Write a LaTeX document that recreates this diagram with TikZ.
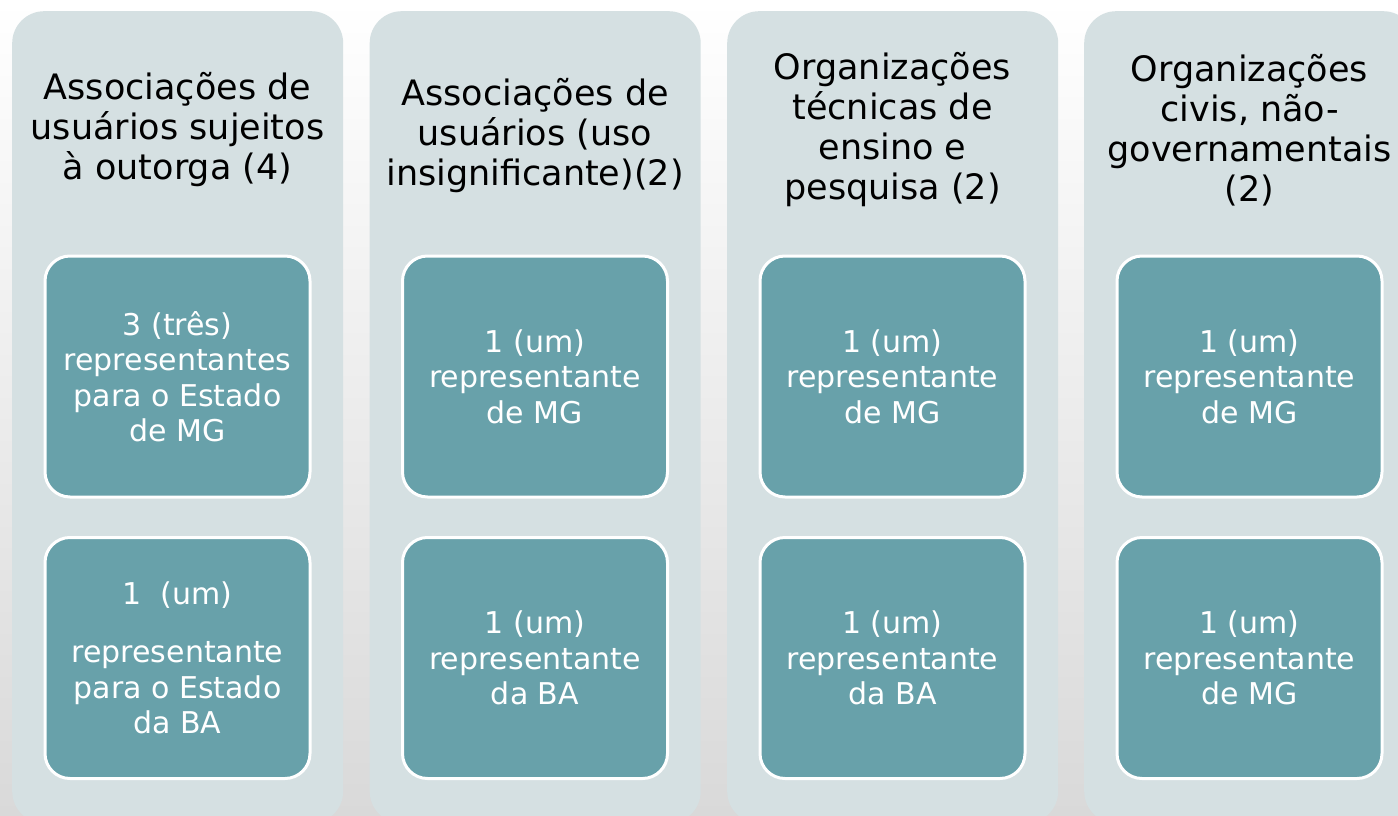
\documentclass[tikz,border=0pt]{standalone}
\usepackage{fontspec}
\setmainfont{DejaVu Sans}
\usetikzlibrary{positioning}
\definecolor{panelgray}{HTML}{D5E0E2}
\definecolor{tealbox}{HTML}{68A1AA}
\definecolor{bgtop}{HTML}{FFFFFF}
\definecolor{bgmid}{HTML}{F1F1F1}
\definecolor{bgbot}{HTML}{D9D9D9}

\begin{document}
\begin{tikzpicture}[x=1pt,y=-1pt,
 colbox/.style={fill=panelgray,rounded corners=32pt,anchor=north west,inner sep=0pt,
  minimum width=331pt,minimum height=812pt},
 coltitle/.style={align=center,inner sep=0pt,font=\fontsize{35}{40}\selectfont},
 repbox/.style={fill=tealbox,draw=white,line width=3pt,rounded corners=25pt,inner sep=0pt,
  minimum width=265pt,minimum height=241pt,text=white,align=center,
  font=\fontsize{30}{35.5}\selectfont}]
\useasboundingbox (0,0) rectangle (1398,816);
\clip (0,0) rectangle (1398,816);
\shade[top color=bgtop,middle color=bgmid,bottom color=bgbot] (0,0) rectangle (1398,816);
\foreach \i/\x/\ty/\tt/\ra/\rb in {
 1/12/130/{Associações de\\usuários sujeitos\\à outorga (4)}/{3 (três)\\representantes\\para o Estado\\de MG}/{1~~(um)\\[23pt]representante\\para o Estado\\da BA},
 2/369.5/136/{Associações de\\usuários (uso\\insignificante)(2)}/{1 (um)\\representante\\de MG}/{1 (um)\\representante\\da BA},
 3/727/130/{Organizações\\técnicas de\\ensino e\\pesquisa (2)}/{1 (um)\\representante\\de MG}/{1 (um)\\representante\\da BA},
 4/1084/130/{Organizações\\civis, não-\\governamentais\\(2)}/{1 (um)\\representante\\de MG}/{1 (um)\\representante\\de MG}} {
 \node[colbox] (col\i) at (\x,11) {};
 \node[coltitle] (title\i) at (\x+165.5,\ty) {\tt};
 \node[repbox] (repa\i) at (\x+165.5,376.5) {\ra};
 \node[repbox] (repb\i) at (\x+165.5,658) {\rb};}
\end{tikzpicture}
\end{document}
